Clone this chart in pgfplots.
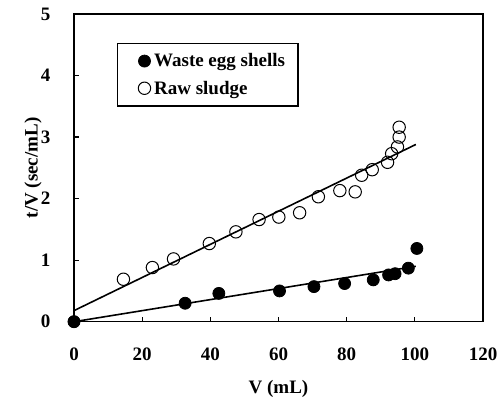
\documentclass[border=0pt]{standalone}
\usepackage{pgfplots}
\pgfplotsset{compat=1.18}
\usepackage{fontspec}
\setmainfont{Liberation Serif}
\begin{document}
\begin{tikzpicture}
\path[use as bounding box] (0,0) rectangle (498bp,399bp);
\begin{axis}[
  at={(74bp,77.3bp)}, anchor=south west,
  scale only axis, width=409bp, height=307.7bp,
  xmin=0, xmax=120, ymin=0, ymax=5,
  xtick={0,20,...,120}, ytick={0,1,...,5},
  tick pos=left, tick align=inside,
  major tick length=5bp,
  axis line style={line width=1.6pt},
  every tick/.style={line width=1.2pt, black},
  /pgf/number format/assume math mode=true,
  tick label style={font=\fontsize{19bp}{21bp}\selectfont\bfseries},
  xticklabel style={yshift=-23bp},
  yticklabel style={xshift=-20bp},
  xlabel={V (mL)}, ylabel={t/V (sec/mL)},
  label style={font=\fontsize{19bp}{21bp}\selectfont\bfseries},
  xlabel style={at={(axis description cs:0.5,-0.219)}, anchor=center},
  ylabel style={at={(axis description cs:-0.100,0.5)}, anchor=center},
  clip=false,
  legend style={at={(axis description cs:0.107,0.905)}, anchor=north west,
    outer sep=0pt,
    draw=black, line width=1.4pt, font=\fontsize{19bp}{21bp}\selectfont\bfseries,
    inner xsep=11bp, inner ysep=8.5bp, row sep=8.5bp,
    nodes={inner xsep=2bp, inner ysep=2bp, outer sep=0pt},
    cells={anchor=west}},
  legend cell align=left,
  legend image code/.code={\path (-10.5bp,0) (11.5bp,0);\draw[mark repeat=2,mark phase=2,#1] plot coordinates {(0cm,0cm) (0.16cm,0cm) (0.32cm,0cm)};},
]
\addplot[only marks, mark=*, mark size=6bp, black, mark options={line width=0.8pt}] coordinates {
 (0,0) (32.6,0.30) (42.5,0.46) (60.3,0.50) (70.4,0.57) (79.4,0.62) (87.8,0.68)
 (92.3,0.76) (94.2,0.78) (98.1,0.87) (100.6,1.19)};
\addlegendentry{Waste egg shells}
\addplot[only marks, mark=o, mark size=6.2bp, black, mark options={line width=1pt, fill=white}] coordinates {
 (14.5,0.69) (23.0,0.88) (29.2,1.02) (39.7,1.27) (47.5,1.46) (54.3,1.66) (60.1,1.70)
 (66.2,1.77) (71.7,2.03) (78.0,2.13) (82.5,2.11) (84.4,2.38) (87.5,2.47) (92.0,2.59)
 (93.2,2.73) (94.9,2.84) (95.4,3.00) (95.4,3.16)};
\addlegendentry{Raw sludge}
\addplot[black, line width=1.6pt, forget plot] coordinates {(0,0.18) (100.3,2.88)};
\addplot[black, line width=1.6pt, forget plot] coordinates {(0,0) (100.3,0.90)};
\addplot[only marks, mark=*, mark size=6bp, black, forget plot] coordinates {(0,0)};
\end{axis}
\end{tikzpicture}
\end{document}
